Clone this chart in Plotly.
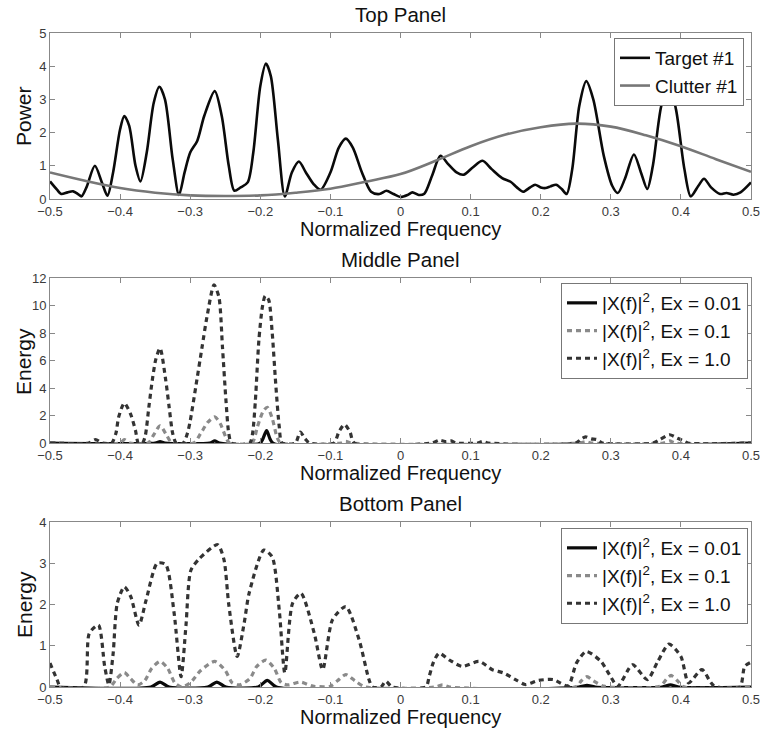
import plotly.graph_objects as go

# ---------------- data ----------------
x_ticks = [-0.5, -0.4, -0.3, -0.2, -0.1, 0.0, 0.1, 0.2, 0.3, 0.4, 0.5]
x_tick_labels = ["−0.5", "−0.4", "−0.3", "−0.2", "−0.1", "0", "0.1", "0.2", "0.3", "0.4", "0.5"]

# Top panel: Target #1
target_f = [-0.500, -0.490, -0.484, -0.475, -0.467, -0.460, -0.455, -0.448, -0.436, -0.426,
            -0.418, -0.410, -0.400, -0.394, -0.387, -0.378, -0.371, -0.362, -0.352, -0.344,
            -0.336, -0.325, -0.316, -0.308, -0.300, -0.290, -0.280, -0.265, -0.255, -0.245,
            -0.237, -0.228, -0.218, -0.210, -0.200, -0.192, -0.185, -0.175, -0.165, -0.155,
            -0.145, -0.135, -0.124, -0.114, -0.100, -0.088, -0.078, -0.068, -0.055, -0.042,
            -0.030, -0.020, -0.010, 0.000, 0.010, 0.017, 0.026, 0.034, 0.045, 0.057,
            0.068, 0.080, 0.090, 0.103, 0.117, 0.130, 0.145, 0.157, 0.166, 0.175,
            0.185, 0.192, 0.200, 0.207, 0.214, 0.222, 0.230, 0.237, 0.245, 0.255,
            0.265, 0.275, 0.290, 0.302, 0.310, 0.320, 0.333, 0.343, 0.352, 0.360,
            0.372, 0.383, 0.393, 0.405, 0.414, 0.425, 0.433, 0.443, 0.456, 0.465,
            0.475, 0.485, 0.500]
target_p = [0.53, 0.28, 0.15, 0.20, 0.23, 0.15, 0.08, 0.35, 1.00, 0.50,
            0.10, 0.80, 2.10, 2.50, 2.20, 1.00, 0.53, 1.40, 2.90, 3.38,
            3.00, 1.20, 0.12, 0.80, 1.40, 1.75, 2.50, 3.25, 2.50, 1.00,
            0.25, 0.35, 0.50, 1.40, 3.40, 4.08, 3.70, 1.80, 0.08, 0.80,
            1.13, 0.80, 0.45, 0.28, 0.80, 1.55, 1.82, 1.55, 0.80, 0.22,
            0.15, 0.25, 0.15, 0.06, 0.12, 0.20, 0.12, 0.16, 0.70, 1.30,
            1.05, 0.80, 0.73, 0.95, 1.15, 0.90, 0.63, 0.52, 0.35, 0.22,
            0.35, 0.43, 0.35, 0.33, 0.38, 0.43, 0.30, 0.15, 0.90, 2.80,
            3.55, 3.00, 1.30, 0.40, 0.18, 0.60, 1.34, 0.80, 0.30, 1.00,
            2.80, 3.45, 2.70, 0.90, 0.08, 0.40, 0.61, 0.35, 0.15, 0.18,
            0.13, 0.20, 0.50]

# Top panel: Clutter #1
clutter_f = [-0.50, -0.45, -0.40, -0.35, -0.30, -0.25, -0.20, -0.15, -0.10, -0.05, 0.00,
             0.05, 0.10, 0.15, 0.20, 0.25, 0.30, 0.35, 0.40, 0.45, 0.50]
clutter_p = [0.80, 0.55, 0.33, 0.19, 0.11, 0.09, 0.11, 0.19, 0.31, 0.52, 0.75,
             1.15, 1.59, 1.94, 2.16, 2.27, 2.18, 1.92, 1.59, 1.20, 0.82]

# Middle panel
mid_e1_f = [-0.500, -0.445, -0.435, -0.425, -0.412, -0.406, -0.402, -0.394, -0.385, -0.378,
            -0.374, -0.368, -0.364, -0.359, -0.354, -0.349, -0.343, -0.335, -0.330, -0.325,
            -0.320, -0.310, -0.304, -0.300, -0.292, -0.283, -0.276, -0.266, -0.259, -0.254,
            -0.249, -0.245, -0.241, -0.215, -0.211, -0.207, -0.202, -0.197, -0.193, -0.188,
            -0.183, -0.178, -0.173, -0.169, -0.150, -0.143, -0.136, -0.130, -0.095, -0.088,
            -0.080, -0.072, -0.066, 0.045, 0.055, 0.065, 0.072, 0.080, 0.110, 0.117,
            0.125, 0.250, 0.258, 0.264, 0.272, 0.280, 0.288, 0.360, 0.370, 0.384,
            0.395, 0.402, 0.410, 0.500]
mid_e1 = [0.0, 0.0, 0.25, 0.0, 0.0, 0.7, 1.9, 2.9, 2.1, 0.9,
          0.0, 0.0, 0.55, 2.6, 4.6, 6.1, 6.9, 4.6, 2.6, 0.7,
          0.0, 0.0, 0.7, 1.6, 4.1, 7.0, 9.2, 11.5, 10.6, 7.0,
          3.1, 0.7, 0.0, 0.0, 0.7, 3.1, 7.5, 9.9, 10.7, 10.4,
          8.0, 4.3, 1.2, 0.0, 0.0, 0.8, 0.3, 0.0, 0.0, 0.8,
          1.35, 0.8, 0.0, 0.0, 0.2, 0.1, 0.15, 0.0, 0.0, 0.12,
          0.0, 0.0, 0.3, 0.45, 0.3, 0.25, 0.0, 0.0, 0.25, 0.6,
          0.35, 0.2, 0.0, 0.0]

mid_e01_f = [-0.500, -0.400, -0.394, -0.386, -0.360, -0.352, -0.343, -0.334, -0.326, -0.295,
             -0.285, -0.275, -0.265, -0.257, -0.249, -0.244, -0.212, -0.204, -0.196, -0.190,
             -0.183, -0.176, -0.171, -0.085, -0.078, -0.071, 0.255, 0.264, 0.272, 0.375,
             0.384, 0.392, 0.500]
mid_e01 = [0.0, 0.0, 0.25, 0.0, 0.0, 0.6, 1.25, 0.6, 0.0, 0.0,
           0.7, 1.5, 1.9, 1.4, 0.4, 0.0, 0.0, 1.2, 2.3, 2.6,
           1.8, 0.4, 0.0, 0.0, 0.12, 0.0, 0.0, 0.1, 0.0, 0.0,
           0.15, 0.0, 0.0]

mid_e001_f = [-0.500, -0.350, -0.343, -0.336, -0.272, -0.265, -0.258, -0.200, -0.191, -0.182, 0.500]
mid_e001 = [0.0, 0.0, 0.1, 0.0, 0.0, 0.15, 0.0, 0.0, 0.9, 0.0, 0.0]

# Bottom panel
bot_e1_f = [-0.500, -0.490, -0.485, -0.452, -0.444, -0.431, -0.422, -0.416, -0.410, -0.404,
            -0.394, -0.385, -0.373, -0.363, -0.347, -0.335, -0.323, -0.313, -0.306, -0.299,
            -0.287, -0.261, -0.252, -0.245, -0.233, -0.223, -0.216, -0.195, -0.183, -0.173,
            -0.165, -0.154, -0.142, -0.123, -0.111, -0.097, -0.078, -0.059, -0.045, -0.040,
            -0.028, -0.021, -0.012, 0.036, 0.041, 0.047, 0.055, 0.070, 0.088, 0.112,
            0.131, 0.147, 0.164, 0.178, 0.197, 0.218, 0.239, 0.251, 0.265, 0.286,
            0.298, 0.310, 0.331, 0.352, 0.367, 0.383, 0.400, 0.411, 0.430, 0.447,
            0.484, 0.491, 0.500]
bot_e1 = [0.58, 0.18, 0.0, 0.0, 1.3, 1.5, 0.5, 0.05, 0.8, 2.03,
          2.43, 2.2, 1.5, 2.1, 3.0, 2.97, 1.8, 0.25, 1.5, 2.83,
          3.11, 3.45, 3.1, 2.0, 0.74, 1.55, 2.27, 3.32, 3.15, 1.87,
          0.34, 2.03, 2.27, 1.3, 0.42, 1.63, 1.95, 1.14, 0.18, 0.0,
          0.0, 0.14, 0.0, 0.0, 0.26, 0.6, 0.82, 0.65, 0.5, 0.62,
          0.42, 0.34, 0.18, 0.06, 0.16, 0.18, 0.03, 0.58, 0.86, 0.62,
          0.3, 0.02, 0.54, 0.18, 0.62, 1.04, 0.74, 0.1, 0.42, 0.03,
          0.0, 0.5, 0.6]

bot_e01_f = [-0.500, -0.415, -0.405, -0.394, -0.385, -0.375, -0.365, -0.355, -0.343, -0.332,
             -0.322, -0.312, -0.300, -0.285, -0.265, -0.250, -0.240, -0.230, -0.215, -0.205,
             -0.192, -0.180, -0.170, -0.160, -0.143, -0.125, -0.100, -0.090, -0.078, -0.065,
             -0.050, 0.050, 0.060, 0.070, 0.250, 0.258, 0.266, 0.275, 0.290, 0.370,
             0.380, 0.386, 0.395, 0.405, 0.500]
bot_e01 = [0.0, 0.0, 0.2, 0.35, 0.2, 0.05, 0.15, 0.45, 0.62, 0.45,
           0.1, 0.0, 0.1, 0.4, 0.62, 0.4, 0.1, 0.05, 0.2, 0.5,
           0.65, 0.45, 0.1, 0.05, 0.12, 0.02, 0.02, 0.15, 0.3, 0.15,
           0.0, 0.0, 0.05, 0.0, 0.0, 0.15, 0.25, 0.15, 0.02, 0.02,
           0.2, 0.28, 0.15, 0.0, 0.0]

bot_e001_f = [-0.500, -0.356, -0.343, -0.330, -0.275, -0.262, -0.249, -0.203, -0.190, -0.177,
              0.254, 0.266, 0.278, 0.373, 0.385, 0.397, 0.500]
bot_e001 = [0.0, 0.0, 0.12, 0.0, 0.0, 0.12, 0.0, 0.0, 0.16, 0.0,
            0.0, 0.04, 0.0, 0.0, 0.05, 0.0, 0.0]

ex_names = ["|X(f)|<sup>2</sup>, Ex = 0.01", "|X(f)|<sup>2</sup>, Ex = 0.1", "|X(f)|<sup>2</sup>, Ex = 1.0"]

# ---------------- figure ----------------
W, H = 762, 732
ML, MR, MT, MB = 50, 11, 0, 0
FONT = "Liberation Sans, Arial, Helvetica, sans-serif"

def py(p):
    return 1 - p / H

def pxp(p):
    return (p - ML) / (W - ML - MR)

C_BLACK = "#0a0a0a"
C_CLUT = "#777777"
C_GRAY = "#8a8a8a"
C_DARK = "#333333"
DASH = "5px,4px"

fig = go.Figure()

fig.add_trace(go.Scatter(x=target_f, y=target_p, mode="lines", name="Target #1",
                         line=dict(color=C_BLACK, width=2.6, shape="spline", smoothing=0.8),
                         xaxis="x", yaxis="y", legend="legend"))
fig.add_trace(go.Scatter(x=clutter_f, y=clutter_p, mode="lines", name="Clutter #1",
                         line=dict(color=C_CLUT, width=2.6, shape="spline", smoothing=1.0),
                         xaxis="x", yaxis="y", legend="legend"))


def add_panel(series, leg, xa, ya):
    styles = [dict(color=C_BLACK, width=3.2, dash="solid"),
              dict(color=C_GRAY, width=3.2, dash=DASH),
              dict(color=C_DARK, width=3.2, dash=DASH)]
    for (fx, fy), name, st in zip(series, ex_names, styles):
        fig.add_trace(go.Scatter(x=fx, y=fy, mode="lines", name=name,
                                 line=dict(color=st["color"], width=st["width"], dash=st["dash"],
                                           shape="spline", smoothing=0.7),
                                 xaxis=xa, yaxis=ya, legend=leg))


add_panel([(mid_e001_f, mid_e001), (mid_e01_f, mid_e01), (mid_e1_f, mid_e1)], "legend2", "x2", "y2")
add_panel([(bot_e001_f, bot_e001), (bot_e01_f, bot_e01), (bot_e1_f, bot_e1)], "legend3", "x3", "y3")

axis_common = dict(showline=True, linecolor="#888888", linewidth=1, mirror="ticks",
                   ticks="inside", ticklen=5, tickcolor="#888888", showgrid=False,
                   zeroline=False, tickfont=dict(family=FONT, size=13, color="#3a3a3a"),
                   automargin=False)

domains = [(py(199), py(33)), (py(443), py(278)), (py(687), py(522))]
yranges = [(0, 5, 1), (0, 12, 2), (0, 4, 1)]

layout = dict(width=W, height=H, margin=dict(l=ML, r=MR, t=MT, b=MB),
              paper_bgcolor="white", plot_bgcolor="white",
              font=dict(family=FONT, color="#111111"))
for i, (dom, (y0, y1, dy)) in enumerate(zip(domains, yranges)):
    sfx = "" if i == 0 else str(i + 1)
    layout["xaxis" + sfx] = dict(axis_common, domain=[0, 1], range=[-0.5, 0.5],
                                 tickvals=x_ticks, ticktext=x_tick_labels,
                                 anchor="y" + sfx)
    layout["yaxis" + sfx] = dict(axis_common, domain=list(dom), range=[y0, y1],
                                 dtick=dy, tick0=0, anchor="x" + sfx)

leg_common = dict(bgcolor="white", bordercolor="#777777", borderwidth=1,
                  font=dict(family=FONT, size=19, color="#111111"),
                  xanchor="right", yanchor="top", itemwidth=30, tracegroupgap=0)
layout["legend"] = dict(leg_common, x=pxp(744), y=py(38))
layout["legend2"] = dict(leg_common, x=pxp(748), y=py(283))
layout["legend3"] = dict(leg_common, x=pxp(748), y=py(528))
fig.update_layout(**layout)

ann = []
for txt, y in [("Top Panel", 15), ("Middle Panel", 260), ("Bottom Panel", 503)]:
    ann.append(dict(text=txt, x=0.5, y=py(y), xref="paper", yref="paper",
                    showarrow=False, xanchor="center", yanchor="middle",
                    font=dict(family=FONT, size=20.5, color="#111111")))
for y in [229, 473, 717]:
    ann.append(dict(text="Normalized Frequency", x=0.5, y=py(y), xref="paper", yref="paper",
                    showarrow=False, xanchor="center", yanchor="middle",
                    font=dict(family=FONT, size=20, color="#111111")))
for txt, y in [("Power", 116), ("Energy", 361), ("Energy", 604)]:
    ann.append(dict(text=txt, x=pxp(24), y=py(y), xref="paper", yref="paper",
                    showarrow=False, xanchor="center", yanchor="middle", textangle=-90,
                    font=dict(family=FONT, size=21, color="#111111")))
fig.update_layout(annotations=ann)

fig.write_html("out.html")
